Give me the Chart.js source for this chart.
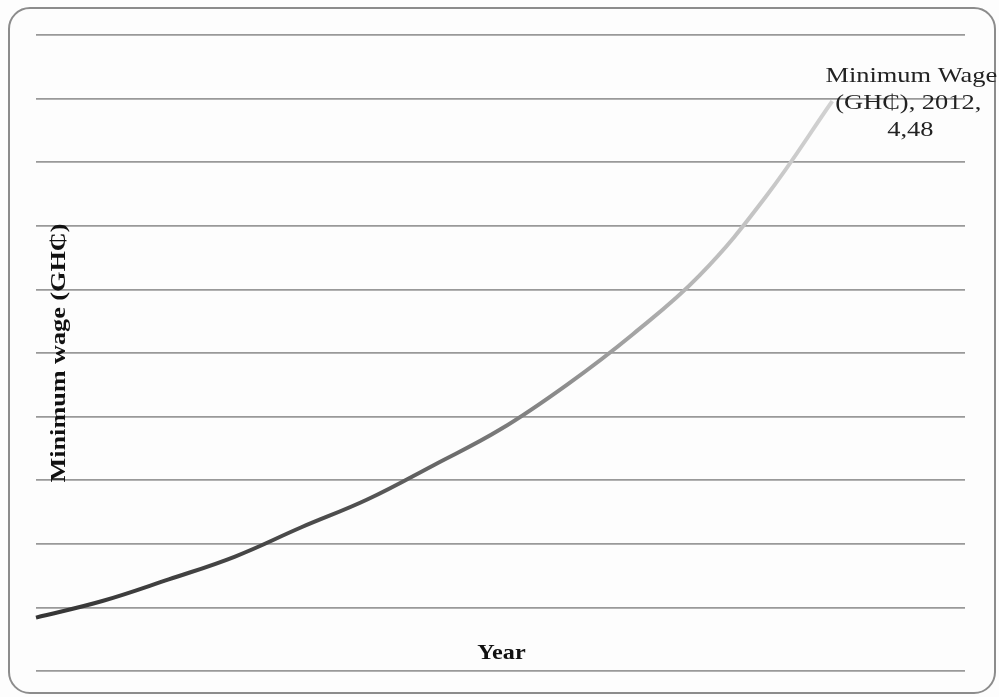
<!DOCTYPE html>
<html>
<head>
<meta charset="utf-8">
<title>Minimum wage (GH₵)</title>
<script src="https://cdn.jsdelivr.net/npm/chart.js@4.4.1/dist/chart.umd.min.js"></script>
<style>
    html, body { margin: 0; padding: 0; background: #fdfdfd; }
    #wrap { position: relative; width: 999px; height: 697px; }
    #frame {
        position: absolute; left: 8px; top: 7px; width: 984px; height: 683px;
        border: 2px solid #8c8c8c; border-radius: 22px; background: #fdfdfd;
    }
    #chart { position: absolute; left: 0; top: 0; }
</style>
</head>
<body>
<div id="wrap">
    <div id="frame"></div>
    <canvas id="chart" width="999" height="697"></canvas>
</div>
<script>
// data
const years = ['2000', '2001', '2002', '2003', '2004', '2005', '2006', '2007',
    '2008', '2009', '2010', '2011', '2012', '2013', '2014'];
const minWage = [0.42, 0.55, 0.72, 0.90, 1.13, 1.35, 1.62, 1.90, 2.25, 2.65, 3.11, 3.73, 4.48];
const yTicks = [0, 0.5, 1, 1.5, 2, 2.5, 3, 3.5, 4, 4.5, 5];

const seriesName = 'Minimum Wage (GH₵)';
const yTitle = 'Minimum wage (GH₵)';
const xTitle = 'Year';

// grey fade along the line, dark at the start and light at the end
function lineGradient(context) {
    const chart = context.chart;
    const area = chart.chartArea;
    if (!area) return '#444';
    const xs = chart.scales.x;
    const x0 = xs.getPixelForValue(0);
    const x1 = xs.getPixelForValue(minWage.length - 1);
    const g = chart.ctx.createLinearGradient(x0, 0, x1, 0);
    g.addColorStop(0, '#353535');
    g.addColorStop(0.4, '#4f4f4f');
    g.addColorStop(0.65, '#8a8a8a');
    g.addColorStop(0.85, '#bdbdbd');
    g.addColorStop(1, '#d2d2d2');
    return g;
}

// draw text stretched along its own direction
function stretchedText(ctx, text, x, y, sx, angle) {
    ctx.save();
    ctx.translate(x, y);
    ctx.rotate(angle);
    ctx.scale(sx, 1);
    ctx.fillText(text, 0, 0);
    ctx.restore();
}

// axis titles sit on top of the grid, label next to the last point
const overlayText = {
    id: 'overlayText',
    afterDatasetsDraw(chart) {
        const ctx = chart.ctx;
        const area = chart.chartArea;
        ctx.save();
        ctx.fillStyle = '#111';
        ctx.textAlign = 'center';
        ctx.textBaseline = 'alphabetic';

        ctx.font = 'bold 22px "Liberation Serif", "Times New Roman", serif';
        stretchedText(ctx, yTitle, area.left + 29, (area.top + area.bottom) / 2, 1.19, -Math.PI / 2);
        stretchedText(ctx, xTitle, (area.left + area.right) / 2 + 1, area.bottom - 12, 1.1, 0);

        // data label on the final point
        const meta = chart.getDatasetMeta(0);
        const last = meta.data[meta.data.length - 1];
        const cx = last.x + 79;
        ctx.fillStyle = '#222';
        ctx.font = '22px "Liberation Serif", "Times New Roman", serif';
        stretchedText(ctx, 'Minimum Wage', cx, last.y - 19, 1.2, 0);
        stretchedText(ctx, '(GH₵), 2012,', cx - 3, last.y + 8, 1.2, 0);
        stretchedText(ctx, '4,48', cx - 1, last.y + 35, 1.2, 0);
        ctx.restore();
    }
};

new Chart(document.getElementById('chart').getContext('2d'), {
    type: 'line',
    data: {
        labels: years,
        datasets: [{
            label: seriesName,
            data: minWage,
            borderColor: lineGradient,
            borderWidth: 4,
            pointRadius: 0,
            tension: 0.4,
            fill: false,
            clip: false
        }]
    },
    options: {
        responsive: false,
        animation: false,
        layout: { padding: { left: 36, right: 34, top: 35, bottom: 26 } },
        plugins: {
            legend: { display: false },
            tooltip: { enabled: false }
        },
        scales: {
            x: {
                display: false,
                offset: false
            },
            y: {
                min: yTicks[0],
                max: yTicks[yTicks.length - 1],
                afterBuildTicks: (axis) => { axis.ticks = yTicks.map(v => ({ value: v })); },
                ticks: { display: false },
                border: { display: false },
                grid: { color: '#999999', lineWidth: 1.8, drawTicks: false }
            }
        }
    },
    plugins: [overlayText]
});
</script>
</body>
</html>
